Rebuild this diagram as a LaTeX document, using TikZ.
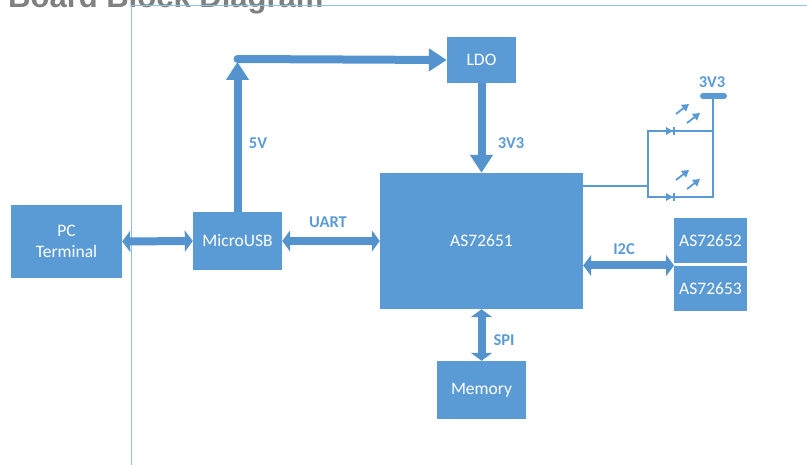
\documentclass[tikz,border=0pt]{standalone}
\usepackage{fontspec}
\setmainfont{Carlito}
\newfontfamily\titlefont{Liberation Sans}
\usetikzlibrary{arrows.meta,calc}
\definecolor{boxblue}{HTML}{5B9BD5}
\definecolor{arrblue}{HTML}{5593CF}
\definecolor{framecol}{HTML}{8EC0E8}
\definecolor{titlegray}{HTML}{808080}
\tikzset{
  blk/.style={fill=boxblue, text=white, inner sep=0pt, align=center,
    font=\fontsize{17.5}{21}\selectfont},
  lbl/.style={text=boxblue, font=\fontsize{16.5}{19}\selectfont\bfseries, inner sep=0pt},
  dblarrow/.style={draw=arrblue, line width=8pt,
    {Triangle[width=21pt,length=8pt]}-{Triangle[width=21pt,length=8pt]}},
  powarrow/.style={draw=arrblue, line width=8pt, -{Triangle[width=22pt,length=18pt]}},
  wire/.style={draw=boxblue, line width=2pt},
  emit/.style={draw=boxblue, line width=1.8pt, -{Triangle[width=8pt,length=7pt]}},
}
\begin{document}
\begin{tikzpicture}[x=1pt,y=-1pt]
\useasboundingbox (0,0) rectangle (807,465);
\clip (0,0) rectangle (807,465);
% title (cut off at the top)
\node[anchor=base west, inner sep=0pt, text=titlegray,
  font=\titlefont\fontsize{31}{36}\selectfont\bfseries] (title) at (8,8) {Board Block Diagram};
% frame lines
\draw[framecol, line width=1pt] (131,470) -- (131,6) -- (810,6);
% blocks
\node[blk, minimum width=111pt, minimum height=73pt] (pc) at (66.5,241.5) {PC\\Terminal};
\node[blk, minimum width=89pt, minimum height=58pt] (usb) at (237.5,241) {MicroUSB};
\node[blk, minimum width=203pt, minimum height=136pt] (main) at (481.5,241) {AS72651};
\node[blk, minimum width=69pt, minimum height=46pt] (ldo) at (481.5,60) {LDO};
\node[blk, minimum width=73pt, minimum height=45pt] (as2) at (710.5,240.5) {AS72652};
\node[blk, minimum width=73pt, minimum height=45pt] (as3) at (710.5,288.5) {AS72653};
\node[blk, minimum width=89pt, minimum height=58pt] (mem) at (481.5,390) {Memory};
% bidirectional links
\draw[dblarrow] (pc.east) -- (usb.west);
\draw[dblarrow] (usb.east) -- (main.west);
\coordinate (i2cend) at (674,265.5);
\draw[dblarrow] (main.east |- i2cend) -- (i2cend);
\draw[dblarrow] (main.south) -- (mem.north);
% power path
\coordinate (corner) at (237.5,59);
\draw[powarrow] (usb.north) -- ([yshift=-3pt]corner);
\fill[arrblue] (corner) circle (4pt);
\draw[powarrow] (corner) -- (ldo.west);
\draw[powarrow] (ldo.south) -- (main.north);
% labels
\node[lbl] (l5v) at (258,143) {5V};
\node[lbl] (l3v3) at (511,143) {3V3};
\node[lbl] (luart) at (328,222) {UART};
\node[lbl] (li2c) at (624,249) {I2C};
\node[lbl] (lspi) at (504,340) {SPI};
% LED circuit
\coordinate (j) at (648,186);
\coordinate (ltop) at (648,131);
\coordinate (lbot) at (648,197);
\coordinate (rtop) at (713,131);
\coordinate (rbot) at (713,197);
\coordinate (rail) at (713,96);
\draw[wire] (main.east |- j) -- (j);
\draw[wire] (rail) -- (rbot) -- (lbot) -- (ltop) -- (rtop);
\draw[boxblue, line width=6pt, line cap=round] (703,96) -- (724,96);
\node[lbl] (lrail) at (712,82) {3V3};
% diodes
\foreach \yy in {131,197}{
  \fill[boxblue] (666,\yy-4) -- (666,\yy+4) -- (673,\yy) -- cycle;
  \draw[boxblue, line width=2pt] (674,\yy-4) -- (674,\yy+4);
}
% emission arrows
\draw[emit] (676,114) -- (689,104);
\draw[emit] (687,123) -- (700,113);
\draw[emit] (676,180) -- (689,170);
\draw[emit] (687,189) -- (700,179);
\end{tikzpicture}
\end{document}
